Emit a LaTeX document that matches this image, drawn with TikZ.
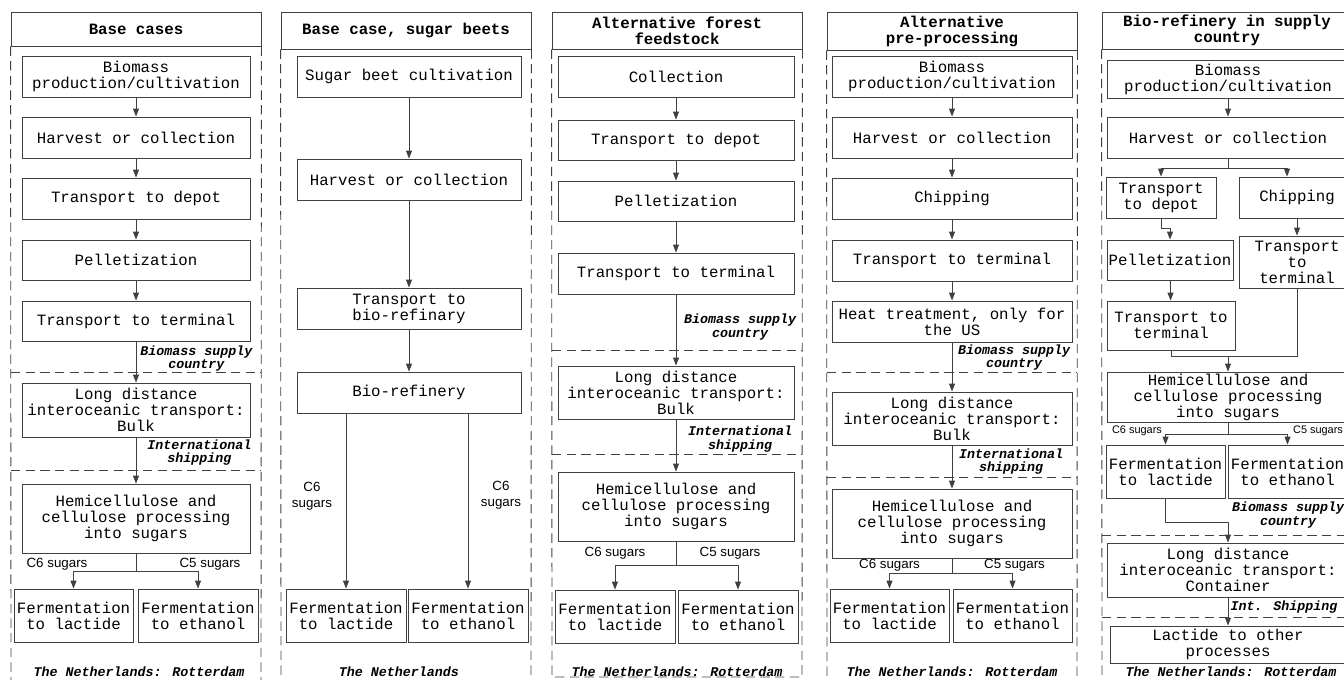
\documentclass[tikz,border=0pt]{standalone}
\usepackage{fontspec}
\setmainfont{Liberation Sans}
\newfontfamily\stagefont{Liberation Mono}
\usepackage{tikz}
\usetikzlibrary{arrows.meta}

\tikzset{
  stage/.style={draw=black!75, line width=0.65pt, align=center, inner sep=0pt,
    font=\stagefont\fontsize{11.8}{12}\selectfont},
  head/.style={stage, font=\stagefont\bfseries\fontsize{11.8}{12}\selectfont},
  note/.style={align=center, inner sep=0pt,
    font=\stagefont\bfseries\itshape\fontsize{10}{10}\selectfont},
  sugar/.style={align=center, inner sep=0pt, font=\fontsize{10}{12}\selectfont},
  smallsugar/.style={sugar, font=\fontsize{8.2}{10}\selectfont},
  link/.style={draw=black!75, line width=0.65pt},
  flow/.style={link, -{Triangle[length=6pt,width=4.5pt]}},
  zone/.style={draw=black!75, line width=0.65pt, dash pattern=on 7pt off 4pt}
}

% box from its corners, in pixels of the reference
\newcommand{\block}[7][stage]{%
  \node[#1, minimum width={(#5-#3)*0.75pt}, minimum height={(#6-#4)*0.75pt}]
    (#2) at ({(#3+#5)/2},{(#4+#6)/2}) {#7};}

\begin{document}
\begin{tikzpicture}[x=0.75pt, y=-0.75pt]
\useasboundingbox (0,0) rectangle (1344,679);
\clip (0,0) rectangle (1344,679);

% base cases
\block[head]{ta}{11}{12}{261}{46}{Base cases}
\draw[zone] (ta.south west) -- (11,690);
\draw[zone] (ta.south east) -- (261,690);
\draw[zone] (11,372) -- (261,372);
\draw[zone] (11,470) -- (261,470);
\block{bpa}{22}{56}{250}{97}{Biomass\\production/cultivation}
\block{hva}{22}{117}{250}{158}{Harvest or collection}
\block{tda}{22}{178}{250}{219}{Transport to depot}
\block{pea}{22}{240}{250}{280}{Pelletization}
\block{tta}{22}{301}{250}{341}{Transport to terminal}
\block{lda}{22}{383}{250}{437}{Long distance\\interoceanic transport:\\Bulk}
\block{hma}{22}{484}{250}{553}{Hemicellulose and\\cellulose processing\\into sugars}
\block{fla}{14}{589}{133}{642}{Fermentation\\to lactide}
\block{fea}{138}{589}{258}{642}{Fermentation\\to ethanol}
\node[note] (bsa) at (196.5,358.5) {Biomass supply\\country};
\node[note] (isa) at (199.5,452.5) {International\\shipping};
\node[note] (nla) at (139,672) {The Netherlands: Rotterdam};
\node[sugar] (c6a) at (57,564) {C6 sugars};
\node[sugar] (c5a) at (210,564) {C5 sugars};
\draw[flow] (bpa) -- (hva);
\draw[flow] (hva) -- (tda);
\draw[flow] (tda) -- (pea);
\draw[flow] (pea) -- (tta);
\draw[flow] (tta) -- (lda);
\draw[flow] (lda) -- (hma);
\draw[link] (hma.south) -- ++(0,18) coordinate (sa);
\draw[flow] (sa) -| (fla.north);
\draw[flow] (sa) -| (fea.north);

% sugar beets
\block[head]{tb}{281}{12}{531}{49}{Base case, sugar beets}
\draw[zone] (tb.south west) -- (281,690);
\draw[zone] (tb.south east) -- (531,690);
\block{sbb}{297}{56}{521}{97}{Sugar beet cultivation}
\block{hvb}{297}{159}{521}{200}{Harvest or collection}
\block{trb}{297}{288}{521}{329}{Transport to\\bio-refinary}
\block{brb}{297}{372}{521}{413}{Bio-refinery}
\block{flb}{286}{589}{406}{642}{Fermentation\\to lactide}
\block{feb}{408}{589}{528}{642}{Fermentation\\to ethanol}
\node[sugar] (c6b) at (312,496.5) {C6\\sugars};
\node[sugar] (c6bb) at (501,495) {C6\\sugars};
\node[note] (nlb) at (399,672) {The Netherlands};
\draw[flow] (sbb) -- (hvb);
\draw[flow] (hvb) -- (trb);
\draw[flow] (trb) -- (brb);
\draw[flow] (brb.south -| flb.north) -- (flb.north);
\draw[flow] (brb.south -| feb.north) -- (feb.north);

% forest feedstock
\block[head]{tc}{552}{12}{802}{49}{Alternative forest\\feedstock}
\draw[zone] (tc.south west) -- (552,677) -- (802,677) -- (tc.south east);
\draw[zone] (552,350) -- (802,350);
\draw[zone] (552,454) -- (802,454);
\block{coc}{558}{56}{794}{97}{Collection}
\block{tdc}{558}{120}{794}{160}{Transport to depot}
\block{pec}{558}{181}{794}{221}{Pelletization}
\block{ttc}{558}{253}{794}{294}{Transport to terminal}
\block{ldc}{558}{366}{794}{419}{Long distance\\interoceanic transport:\\Bulk}
\block{hmc}{558}{472}{794}{541}{Hemicellulose and\\cellulose processing\\into sugars}
\block{flc}{555}{590}{675}{643}{Fermentation\\to lactide}
\block{fec}{678}{590}{798}{643}{Fermentation\\to ethanol}
\node[note] (bsc) at (740,327) {Biomass supply\\country};
\node[note] (isc) at (740,439) {International\\shipping};
\node[note] (nlc) at (677,672) {The Netherlands: Rotterdam};
\node[sugar] (c6c) at (615,553) {C6 sugars};
\node[sugar] (c5c) at (730,553) {C5 sugars};
\draw[flow] (coc) -- (tdc);
\draw[flow] (tdc) -- (pec);
\draw[flow] (pec) -- (ttc);
\draw[flow] (ttc) -- (ldc);
\draw[flow] (ldc) -- (hmc);
\draw[link] (hmc.south) -- ++(0,24) coordinate (sc);
\draw[flow] (sc) -| (flc.north);
\draw[flow] (sc) -| (fec.north);

% pre-processing
\block[head]{td}{827}{12}{1077}{50}{Alternative\\pre-processing}
\draw[zone] (td.south west) -- (827,690);
\draw[zone] (td.south east) -- (1077,690);
\draw[zone] (827,372) -- (1077,372);
\draw[zone] (827,477) -- (1077,477);
\block{bpd}{832}{56}{1072}{97}{Biomass\\production/cultivation}
\block{hvd}{832}{117}{1072}{158}{Harvest or collection}
\block{chd}{832}{178}{1072}{219}{Chipping}
\block{ttd}{832}{240}{1072}{281}{Transport to terminal}
\block{htd}{832}{301}{1072}{342}{Heat treatment, only for\\the US}
\block{ldd}{832}{392}{1072}{445}{Long distance\\interoceanic transport:\\Bulk}
\block{hmd}{832}{489}{1072}{558}{Hemicellulose and\\cellulose processing\\into sugars}
\block{fld}{830}{589}{949}{642}{Fermentation\\to lactide}
\block{fed}{953}{589}{1072}{642}{Fermentation\\to ethanol}
\node[note] (bsd) at (1014,357.5) {Biomass supply\\country};
\node[note] (isd) at (1011,461.5) {International\\shipping};
\node[note] (nld) at (952,672) {The Netherlands: Rotterdam};
\node[sugar] (c6d) at (889.5,565) {C6 sugars};
\node[sugar] (c5d) at (1014.5,565) {C5 sugars};
\draw[flow] (bpd) -- (hvd);
\draw[flow] (hvd) -- (chd);
\draw[flow] (chd) -- (ttd);
\draw[flow] (ttd) -- (htd);
\draw[flow] (htd) -- (ldd);
\draw[flow] (ldd) -- (hmd);
\draw[link] (hmd.south) -- ++(0,15) coordinate (sd);
\draw[flow] (sd) -| (fld.north);
\draw[flow] (sd) -| (fed.north);

% bio-refinery in supply country
\block[head]{te}{1102}{12}{1352}{49}{Bio-refinery in supply\\country}
\draw[zone] (te.south west) -- (1102,690);
\draw[zone] (1102,535) -- (1352,535);
\draw[zone] (1102,617) -- (1352,617);
\block{bpe}{1107}{60}{1349}{98}{Biomass\\production/cultivation}
\block{hve}{1107}{117}{1349}{158}{Harvest or collection}
\block{tde}{1106}{177}{1216}{218}{Transport\\to depot}
\block{che}{1239}{177}{1355}{218}{Chipping}
\block{pee}{1107}{240}{1233}{280}{Pelletization}
\block{tre}{1239}{236}{1355}{288}{Transport\\to\\terminal}
\block{tle}{1107}{301}{1235}{350}{Transport to\\terminal}
\block{hme}{1107}{372}{1349}{422}{Hemicellulose and\\cellulose processing\\into sugars}
\block{fle}{1106}{445}{1225}{498}{Fermentation\\to lactide}
\block{fee}{1228}{445}{1347}{498}{Fermentation\\to ethanol}
\block{lde}{1107}{543}{1349}{597}{Long distance\\interoceanic transport:\\Container}
\block{lxe}{1110}{626}{1346}{663}{Lactide to other\\processes}
\node[smallsugar] (c6e) at (1137,431) {C6 sugars};
\node[smallsugar] (c5e) at (1318,431) {C5 sugars};
\node[note] (bse) at (1288,515) {Biomass supply\\country};
\node[note] (ise) at (1284,607) {Int. Shipping};
\node[note] (nle) at (1231,672) {The Netherlands: Rotterdam};
\coordinate (me) at (1228,356);
\draw[flow] (bpe) -- (hve);
\draw[link] (hve.south) -- ++(0,10) coordinate (se);
\draw[flow] (se) -| (tde.north);
\draw[flow] (se) -| ([xshift=-7.5pt]che.north);
\draw[flow] (tde.south) -- ++(0,10) -| (pee.north);
\draw[flow] (che) -- (tre);
\draw[flow] (pee) -- (tle);
\draw[link] (tle.south) -- ++(0,6) -| (tre.south);
\draw[flow] (me) -- (hme.north);
\draw[link] (hme.south) -- ++(0,12) coordinate (ke);
\draw[flow] (ke) -| (fle.north);
\draw[flow] (ke) -| (fee.north);
\draw[flow] (fle.south) -- ++(0,24) -| (lde.north);
\draw[flow] (lde) -- (lxe);
\end{tikzpicture}
\end{document}
